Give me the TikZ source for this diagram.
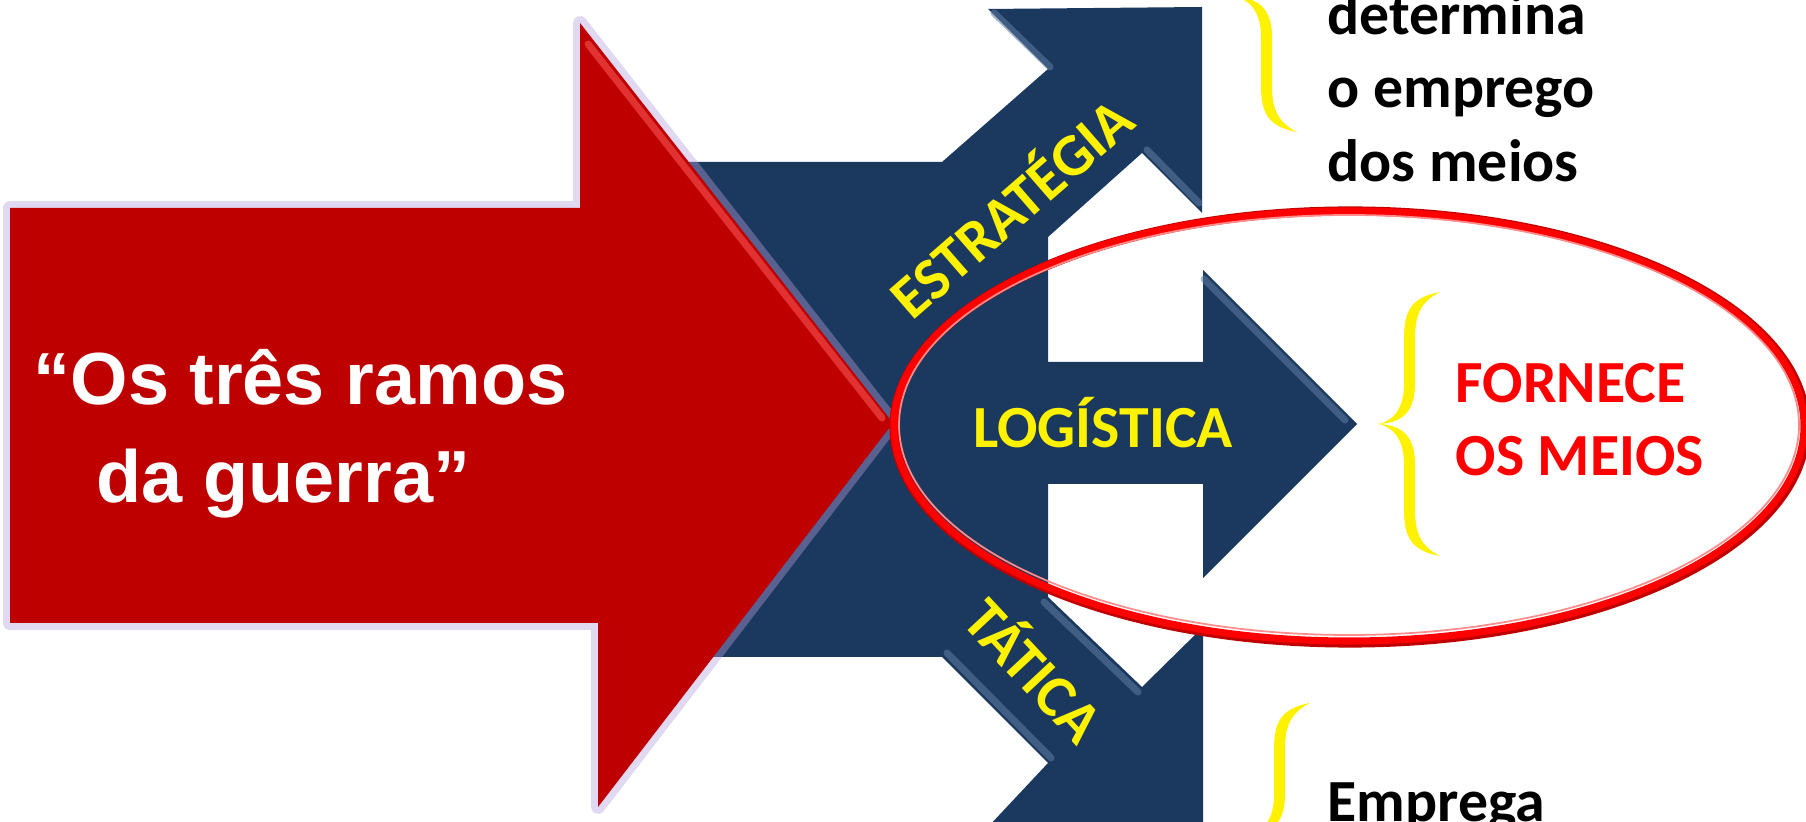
\documentclass[tikz,border=0pt]{standalone}
\usepackage{fontspec}
\setmainfont{Carlito}
\newfontfamily\arialfont{Liberation Sans}

\definecolor{navy}{RGB}{27,56,94}
\definecolor{navyhi}{RGB}{95,125,165}
\definecolor{warred}{RGB}{190,0,0}
\definecolor{redhi}{RGB}{255,90,90}
\definecolor{glow}{RGB}{180,160,220}

% tapered yellow brace: #1 stroke x, #2 cusp y, #3 half height
\newcommand{\ybrace}[3]{%
  \fill[yellow] ({#1+30},{#2-#3}) .. controls ({#1-4},{#2-#3+6}) and ({#1-6},{#2-#3+25}) .. ({#1-6},{#2-#3+50})
    -- ({#1-6},{#2-40}) .. controls ({#1-6},{#2-12}) and ({#1-20},{#2-2}) .. ({#1-32},{#2})
    .. controls ({#1-20},{#2+2}) and ({#1-6},{#2+12}) .. ({#1-6},{#2+40})
    -- ({#1-6},{#2+#3-50}) .. controls ({#1-6},{#2+#3-25}) and ({#1-4},{#2+#3-6}) .. ({#1+30},{#2+#3})
    .. controls ({#1+6},{#2+#3-12}) and ({#1+5},{#2+#3-30}) .. ({#1+5},{#2+#3-50})
    -- ({#1+5},{#2+40}) .. controls ({#1+5},{#2+10}) and ({#1-10},{#2+1}) .. ({#1-32},{#2})
    .. controls ({#1-10},{#2-1}) and ({#1+5},{#2-10}) .. ({#1+5},{#2-40})
    -- ({#1+5},{#2-#3+50}) .. controls ({#1+5},{#2-#3+30}) and ({#1+6},{#2-#3+12}) .. ({#1+30},{#2-#3}) -- cycle;}

\begin{document}
\begin{tikzpicture}[x=0.01cm,y=-0.01cm,
  bevel/.style={draw=navyhi,line width=2pt,line cap=round,opacity=0.55},
  txt/.style={font=\bfseries\fontsize{17}{21}\selectfont,inner sep=0pt},
  quote/.style={font=\arialfont\bfseries\fontsize{21}{28}\selectfont,text=white,inner sep=0pt}]
\useasboundingbox (0,0) rectangle (1806,822);
\clip (0,0) rectangle (1806,822);

% navy block with the three branches
\fill[navy] (680,162) -- (942,162) -- (1048,69) -- (988,9) -- (1202,7) -- (1202,213)
  -- (1142,153) -- (1048,237) -- (1048,362) -- (1203,362) -- (1203,270) -- (1357,424)
  -- (1203,578) -- (1203,484) -- (1048,484) -- (1048,597) -- (1142,687) -- (1203,627)
  -- (1203,829) -- (988,827) -- (1048,763) -- (942,657) -- (680,657) -- cycle;
\draw[bevel] (994,13) -- (1050,67);
\draw[bevel] (1147,150) -- (1199,203);
\draw[bevel] (1204,279) -- (1345,420);
\draw[bevel] (947,653) -- (1051,758);
\draw[bevel] (1044,602) -- (1138,692);

% big red arrow
\fill[warred,preaction={draw=glow,draw opacity=0.4,line width=4pt,line join=round}]
  (10,208) -- (580,208) -- (580,23) -- (893,423) -- (598,807) -- (598,623) -- (10,623) -- cycle;
\draw[redhi,line width=2pt,opacity=0.55,line cap=round] (588,44) -- (882,418);

% ellipse round the logistics branch
\draw[red!75!black,line width=2.6pt] (1350,427) ellipse [x radius=456, y radius=216];
\draw[red,line width=2pt] (1349,426) ellipse [x radius=455, y radius=215];
\draw[red!45!white,line width=0.5pt] (1349,425) ellipse [x radius=450, y radius=210];

% braces
\ybrace{1267}{-3}{135}
\ybrace{1410}{424}{132}
\ybrace{1280}{835}{132}

% texts
\node[quote,anchor=base west] (ramos) at (33,405) {“Os três ramos};
\node[quote,anchor=base west] (guerra) at (96,503) {da guerra”};
\node[txt,text=yellow,rotate=41] (estrategia) at (1009,205) {ESTRATÉGIA};
\node[txt,text=yellow,anchor=base] (logistica) at (1103,448) {LOGÍSTICA};
\node[txt,text=yellow,rotate=-47] (tatica) at (1037,668) {TÁTICA};
\node[txt,text=red,anchor=base west] (fornece) at (1455,403) {FORNECE};
\node[txt,text=red,anchor=base west] (meios) at (1455,476) {OS MEIOS};
\node[txt,anchor=base west] (determina) at (1327,35) {determina};
\node[txt,anchor=base west] (emprego) at (1327,108) {o emprego};
\node[txt,anchor=base west] (dosmeios) at (1327,182) {dos meios};
\node[txt,anchor=base west] (emprega) at (1327,821) {Emprega};
\end{tikzpicture}
\end{document}
